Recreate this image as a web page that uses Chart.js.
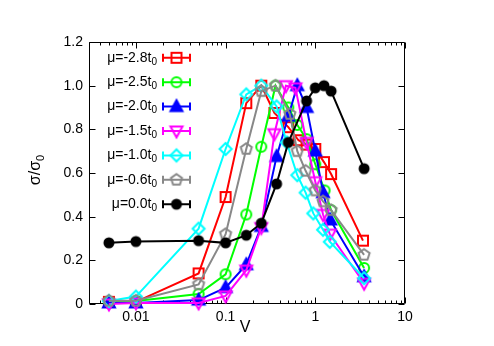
<!DOCTYPE html>
<html><head><meta charset="utf-8">
<script src="https://cdn.jsdelivr.net/npm/chart.js@4/dist/chart.umd.min.js"></script>
<style>html,body{margin:0;padding:0;background:#fff}</style>
</head><body>
<canvas id="c" width="494" height="346" style="width:494px;height:346px;display:block"></canvas>
<script>
// ---- data ----
const muLabels = ['-2.8', '-2.5', '-2.0', '-1.5', '-1.0', '-0.6', '0.0'];
const V_MU28 = [0.005,0.01,0.05,0.1,0.17,0.25,0.35,0.5,0.65,0.8,1.0,1.25,1.5,3.4];
const S_MU28 = [0.01,0.01,0.14,0.49,0.92,1.0,0.875,0.81,0.75,0.73,0.71,0.65,0.595,0.29];
const V_MU25 = [0.005,0.01,0.05,0.1,0.17,0.25,0.36,0.5,0.63,0.8,1.0,1.27,1.5,3.5];
const S_MU25 = [0.008,0.014,0.046,0.136,0.41,0.72,1.0,0.9,0.82,0.755,0.64,0.52,0.43,0.165];
const V_MU20 = [0.005,0.01,0.05,0.1,0.17,0.25,0.37,0.5,0.63,0.8,1.0,1.22,1.47,3.5];
const S_MU20 = [0.005,0.005,0.018,0.075,0.18,0.355,0.675,0.86,1.0,0.9,0.7,0.51,0.385,0.125];
const V_MU15 = [0.005,0.01,0.05,0.1,0.17,0.25,0.35,0.47,0.6,0.8,1.0,1.22,1.45,3.5];
const S_MU15 = [0.0,0.005,0.005,0.037,0.155,0.35,0.78,1.0,0.99,0.74,0.56,0.41,0.32,0.095];
const V_MU10 = [0.005,0.01,0.05,0.1,0.17,0.25,0.37,0.48,0.63,0.78,0.95,1.22,1.45,3.5];
const S_MU10 = [0.014,0.034,0.345,0.71,0.96,1.0,0.905,0.74,0.59,0.51,0.415,0.34,0.285,0.118];
const V_MU06 = [0.005,0.01,0.05,0.1,0.17,0.25,0.36,0.52,0.63,0.78,1.0,1.22,1.5,3.5];
const S_MU06 = [0.015,0.015,0.09,0.32,0.71,0.975,1.0,0.87,0.70,0.61,0.52,0.47,0.43,0.225];
const V_MU00 = [0.005,0.01,0.05,0.1,0.17,0.25,0.37,0.5,0.8,1.0,1.25,1.5,3.5];
const S_MU00 = [0.28,0.286,0.29,0.28,0.315,0.37,0.55,0.74,0.93,0.99,1.0,0.975,0.62];
const xTickValues = [0.01, 0.1, 1, 10];
const yTickStep = 0.2;

// ---- styles ----
const FONT = '"Liberation Sans", Arial, Helvetica, sans-serif';
const colors = ['#ff0000', '#00ff00', '#0000ff', '#ff00ff', '#00ffff', '#888888', '#000000'];
const shapes = ['square', 'circle', 'triUp', 'triDown', 'diamond', 'pentagon', 'dot'];

function makeMarker(shape, color) {
  const c = document.createElement('canvas');
  c.width = 18; c.height = 18;
  const g = c.getContext('2d');
  const cx = 9, cy = 9;
  g.strokeStyle = color; g.fillStyle = color; g.lineWidth = 2;
  g.beginPath();
  if (shape === 'square') { g.rect(cx - 5, cy - 5, 10, 10); g.stroke(); }
  else if (shape === 'circle') { g.arc(cx, cy, 5, 0, Math.PI * 2); g.stroke(); }
  else if (shape === 'triUp') { g.moveTo(cx, cy - 6.5); g.lineTo(cx + 6, cy + 4.5); g.lineTo(cx - 6, cy + 4.5); g.closePath(); g.fill(); g.stroke(); }
  else if (shape === 'triDown') { g.moveTo(cx, cy + 6.5); g.lineTo(cx + 6, cy - 4.5); g.lineTo(cx - 6, cy - 4.5); g.closePath(); g.stroke(); }
  else if (shape === 'diamond') { g.moveTo(cx, cy - 6); g.lineTo(cx + 6, cy); g.lineTo(cx, cy + 6); g.lineTo(cx - 6, cy); g.closePath(); g.stroke(); }
  else if (shape === 'pentagon') {
    for (let k = 0; k < 5; k++) { const a = -Math.PI / 2 + k * 2 * Math.PI / 5; const px = cx + 5.8 * Math.cos(a), py = cy + 5.8 * Math.sin(a); k ? g.lineTo(px, py) : g.moveTo(px, py); }
    g.closePath(); g.stroke();
  }
  else if (shape === 'dot') { g.arc(cx, cy, 5.5, 0, Math.PI * 2); g.fill(); }
  return c;
}
const markers = shapes.map((s, i) => makeMarker(s, colors[i]));

const vs = [V_MU28, V_MU25, V_MU20, V_MU15, V_MU10, V_MU06, V_MU00];
const ss = [S_MU28, S_MU25, S_MU20, S_MU15, S_MU10, S_MU06, S_MU00];
const datasets = muLabels.map((m, i) => ({
  label: 'μ=' + m + 't0',
  data: vs[i].map((v, j) => ({ x: v, y: ss[i][j] })),
  borderColor: colors[i], backgroundColor: colors[i], borderWidth: 2,
  pointStyle: markers[i], pointRadius: 6, pointHoverRadius: 6,
  tension: 0, fill: false, clip: false, order: muLabels.length - i
}));

const framePlugin = {
  id: 'frame',
  beforeDatasetsDraw(chart) {
    const { ctx, chartArea: a, scales: { x, y } } = chart;
    ctx.save();
    ctx.strokeStyle = '#000'; ctx.lineWidth = 1;
    const L = Math.round(a.left) + 0.5, R = Math.round(a.right) - 0.5, T = Math.round(a.top) + 0.5, B = Math.round(a.bottom) - 0.5;
    ctx.beginPath();
    ctx.rect(L, T, R - L, B - T);
    // x ticks (log): major + minor
    for (let e = -3; e <= 1; e++) {
      for (let k = 1; k <= 9; k++) {
        const v = k * Math.pow(10, e);
        if (v < x.min - 1e-12 || v > x.max + 1e-12) continue;
        const px = Math.round(x.getPixelForValue(v)) + 0.5;
        const len = k === 1 ? 6 : 3;
        ctx.moveTo(px, B); ctx.lineTo(px, B - len);
        ctx.moveTo(px, T); ctx.lineTo(px, T + len);
      }
    }
    for (let v = 0; v <= y.max + 1e-9; v += yTickStep) {
      const py = Math.round(y.getPixelForValue(v)) + 0.5;
      ctx.moveTo(L, py); ctx.lineTo(L + 6, py);
      ctx.moveTo(R, py); ctx.lineTo(R - 6, py);
    }
    ctx.stroke();
    ctx.restore();
  },
  afterDraw(chart) {
    const ctx = chart.ctx;
    ctx.save();
    // axis titles
    ctx.fillStyle = '#000';
    ctx.font = '16px ' + FONT; ctx.textAlign = 'center'; ctx.textBaseline = 'middle';
    ctx.fillText('V', 245, 328);
    ctx.save();
    ctx.translate(36, 170); ctx.rotate(-Math.PI / 2);
    ctx.font = '16px ' + FONT;
    const main = 'σ/σ';
    const wMain = ctx.measureText(main).width;
    ctx.font = '11px ' + FONT;
    const wSub = ctx.measureText('0').width;
    const x0 = -(wMain + wSub) / 2;
    ctx.textAlign = 'left';
    ctx.font = '16px ' + FONT; ctx.fillText(main, x0, 0);
    ctx.font = '11px ' + FONT; ctx.fillText('0', x0 + wMain, 5);
    ctx.restore();
    // legend
    const right = 157, y0 = 57.8, dy = 24.4;
    datasets.forEach((d, i) => {
      const yy = y0 + i * dy;
      ctx.font = '10px ' + FONT;
      const sw = ctx.measureText('0').width;
      ctx.textAlign = 'right'; ctx.textBaseline = 'middle'; ctx.fillStyle = '#000';
      ctx.fillText('0', right, yy + 4);
      ctx.font = '14px ' + FONT;
      ctx.fillText('μ=' + muLabels[i] + 't', right - sw, yy);
      ctx.strokeStyle = colors[i]; ctx.lineWidth = 2;
      ctx.beginPath();
      ctx.moveTo(162, yy); ctx.lineTo(191, yy);
      ctx.moveTo(163, yy - 4); ctx.lineTo(163, yy + 4);
      ctx.moveTo(190, yy - 4); ctx.lineTo(190, yy + 4);
      ctx.stroke();
      const m = markers[i];
      ctx.drawImage(m, 176.5 - m.width / 2, yy - m.height / 2);
    });
    ctx.restore();
  }
};

new Chart(document.getElementById('c'), {
  type: 'line',
  data: { datasets },
  options: {
    responsive: false, animation: false, devicePixelRatio: 1,
    layout: { padding: { top: 42, right: 89, left: 0, bottom: 0 } },
    plugins: { legend: { display: false }, tooltip: { enabled: false } },
    scales: {
      x: {
        type: 'logarithmic', min: 0.003, max: 10,
        grid: { display: false, drawTicks: false }, border: { display: false },
        afterBuildTicks: s => { s.ticks = xTickValues.map(v => ({ value: v })); },
        afterFit: s => { s.height = 42; },
        ticks: { autoSkip: false, maxRotation: 0, padding: 5, color: '#000', font: { family: FONT, size: 14 },
          callback: v => String(v) }
      },
      y: {
        type: 'linear', min: 0, max: 1.2,
        grid: { display: false, drawTicks: false }, border: { display: false },
        afterFit: s => { s.width = 89; },
        ticks: { stepSize: yTickStep, padding: 6, color: '#000', font: { family: FONT, size: 14 } }
      }
    }
  },
  plugins: [framePlugin]
});
</script>
</body></html>
